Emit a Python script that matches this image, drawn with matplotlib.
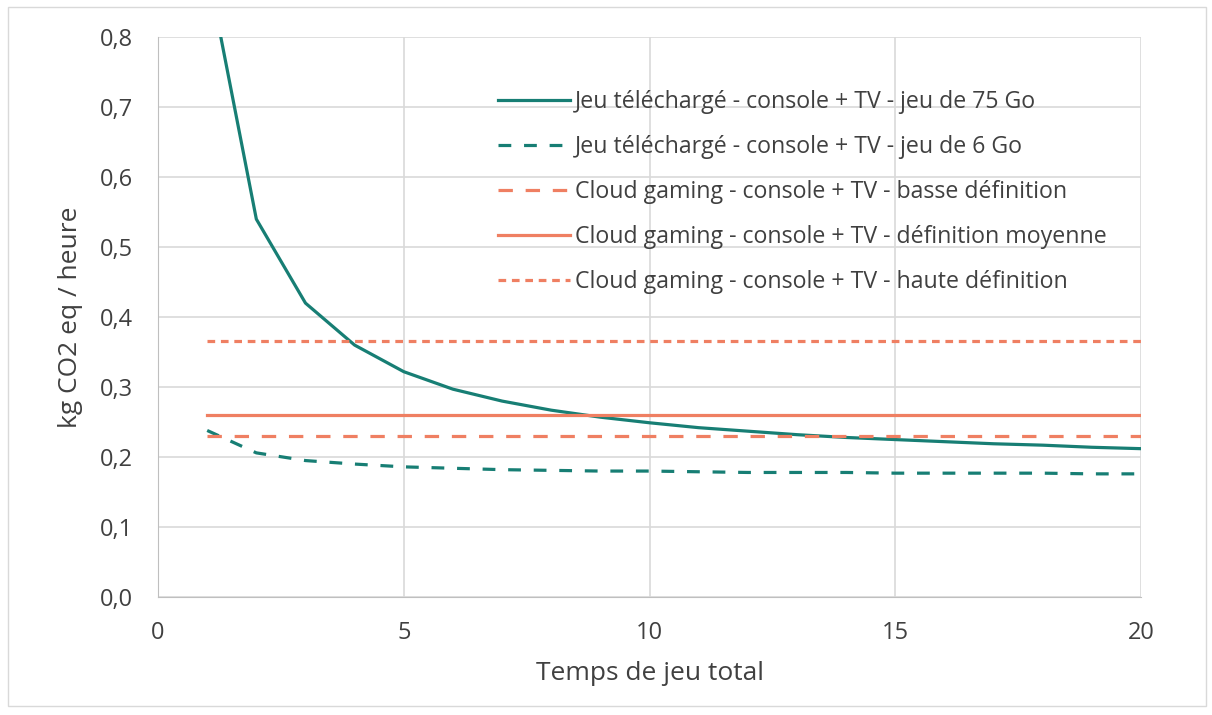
import matplotlib
matplotlib.use("Agg")
import matplotlib.pyplot as plt
from matplotlib.patches import Rectangle

# data
hours = list(range(1, 21))
jeu_75go = [0.90, 0.54, 0.42, 0.36, 0.322, 0.297, 0.280, 0.267, 0.257, 0.249,
            0.242, 0.237, 0.232, 0.228, 0.225, 0.222, 0.219, 0.217, 0.214, 0.212]
jeu_6go = [0.238, 0.206, 0.195, 0.190, 0.186, 0.184, 0.182, 0.181, 0.180, 0.180,
           0.179, 0.178, 0.178, 0.178, 0.177, 0.177, 0.177, 0.177, 0.176, 0.176]
cloud_basse = 0.230
cloud_moyenne = 0.260
cloud_haute = 0.366

labels = [
    "Jeu téléchargé - console + TV - jeu de 75 Go",
    "Jeu téléchargé - console + TV - jeu de 6 Go",
    "Cloud gaming - console + TV - basse définition",
    "Cloud gaming - console + TV - définition moyenne",
    "Cloud gaming - console + TV - haute définition",
]

teal = "#177e74"
orange = "#ef7f62"
txt = "#404040"

plt.rcParams["font.family"] = ["Open Sans", "DejaVu Sans"]

fig = plt.figure(figsize=(12.12, 7.15), dpi=100)
fig.patches.append(Rectangle((0.007, 0.012), 0.988, 0.978, transform=fig.transFigure,
                             fill=False, edgecolor="#d9d9d9", lw=1))
ax = fig.add_axes([0.1304, 0.165, 0.811, 0.783])

lw = 2.3
ax.plot(hours, jeu_75go, color=teal, lw=lw, label=labels[0])
ax.plot(hours, jeu_6go, color=teal, lw=lw, dashes=(4, 4), label=labels[1])
ax.plot(hours, [cloud_basse] * len(hours), color=orange, lw=lw, dashes=(4.5, 4), label=labels[2])
ax.plot(hours, [cloud_moyenne] * len(hours), color=orange, lw=lw, label=labels[3])
ax.plot(hours, [cloud_haute] * len(hours), color=orange, lw=lw, dashes=(2.4, 1.8), label=labels[4])

ax.set_xlim(0, 20)
ax.set_ylim(0, 0.8)
ax.set_xticks([0, 5, 10, 15, 20])
ax.set_yticks([i / 10 for i in range(9)])
ax.set_yticklabels([f"{i / 10:.1f}".replace(".", ",") for i in range(9)])
ax.grid(True, color="#d9d9d9", lw=1.2)
ax.set_axisbelow(True)
for s in ["top", "right"]:
    ax.spines[s].set_visible(False)
for s in ["left", "bottom"]:
    ax.spines[s].set_color("#bfbfbf")
ax.tick_params(length=0, labelsize=17, colors=txt)
ax.tick_params(axis="y", pad=18)
ax.tick_params(axis="x", pad=17)
ax.set_xlabel("Temps de jeu total", fontsize=19, color=txt, labelpad=12)
ax.set_ylabel("kg CO2 eq / heure", fontsize=19, color=txt, labelpad=12)

leg = ax.legend(loc="upper left", bbox_to_anchor=(0.346, 0.905), frameon=False,
                fontsize=16.7, handlelength=3.1, handletextpad=0.22, labelspacing=0.9,
                borderaxespad=0, borderpad=0)
for t in leg.get_texts():
    t.set_color(txt)

fig.savefig("out.png", dpi=100)
